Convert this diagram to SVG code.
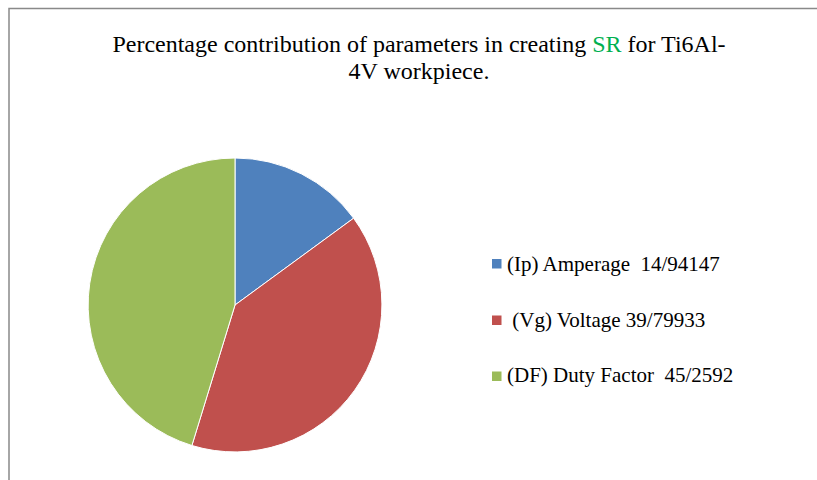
<svg xmlns="http://www.w3.org/2000/svg" width="817" height="480" viewBox="0 0 817 480">
  <style>
    .t { font-family: "Liberation Serif", "Times New Roman", serif; fill: #000; }
    .title { font-size: 24px; text-anchor: middle; }
    .leg { font-size: 21px; }
    .slice { stroke: #fff; stroke-width: 1; }
  </style>
  <rect x="0" y="0" width="817" height="480" fill="#fff"/>
  <path d="M9,480 V8.5 H817" fill="none" stroke="#898989" stroke-width="1.5"/>
  <g id="title">
    <text class="t title" x="419" y="52">Percentage contribution of parameters in creating <tspan fill="#00B050">SR</tspan> for Ti6Al-</text>
    <text class="t title" x="419" y="79">4V workpiece.</text>
  </g>
  <g id="pie">
    <path id="slice-ip" class="slice" fill="#4F81BD" d="M235,305 L235,158 A147,147 0 0 1 353.6,218.2 Z"/>
    <path id="slice-vg" class="slice" fill="#C0504D" d="M235,305 L353.6,218.2 A147,147 0 0 1 191.9,445.5 Z"/>
    <path id="slice-df" class="slice" fill="#9BBB59" d="M235,305 L191.9,445.5 A147,147 0 0 1 235,158 Z"/>
  </g>
  <g id="legend">
    <g id="legend-ip">
      <rect x="492" y="259" width="9.5" height="9.5" fill="#4F81BD"/>
      <text class="t leg" x="507" y="271" xml:space="preserve">(Ip) Amperage  14/94147</text>
    </g>
    <g id="legend-vg">
      <rect x="492" y="315.5" width="9.5" height="9.5" fill="#C0504D"/>
      <text class="t leg" x="507" y="327" xml:space="preserve"> (Vg) Voltage 39/79933</text>
    </g>
    <g id="legend-df">
      <rect x="492" y="371.5" width="9.5" height="9.5" fill="#9BBB59"/>
      <text class="t leg" x="507" y="382" xml:space="preserve">(DF) Duty Factor  45/2592</text>
    </g>
  </g>
</svg>
